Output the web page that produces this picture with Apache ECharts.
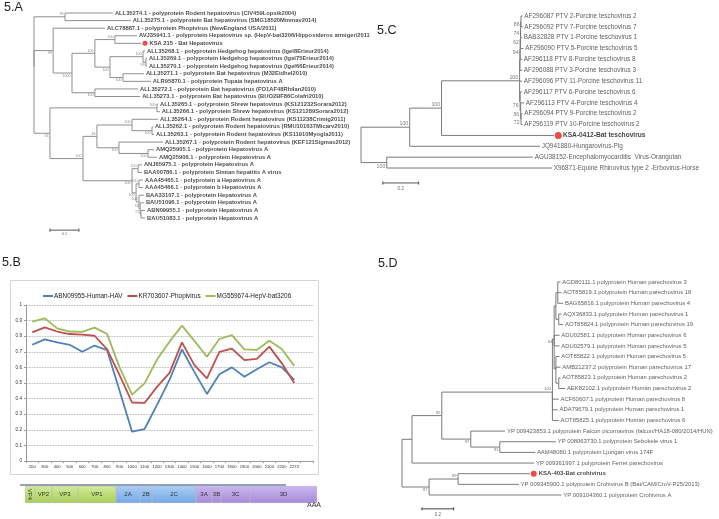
<!DOCTYPE html>
<html><head><meta charset="utf-8">
<script src="https://cdn.jsdelivr.net/npm/echarts@6/dist/echarts.min.js"></script>
<style>html,body{margin:0;padding:0;background:#fff}#c{width:719px;height:519px}</style>
</head><body><div id="c"></div>
<script>
// ---------------- DATA ----------------
// Trees: [node id / tip label, parent, cumulative branch length, bootstrap]
const treeA = [
 ['rA', null, 0],
 ['a1','rA',0.107,'99'],
 ['ALL35274.1 - polyprotein Rodent hepatovirus (CIV459Lopsik2004)','a1',0.272],
 ['ALL35275.1 - polyprotein Bat hepatovirus (SMG18520Minmav2014)','a1',0.334],
 ['a2','rA',0.066,'99'],
 ['ALC78887.1 - polyprotein Phopivirus (NewEngland USA/2011)','a2',0.245],
 ['a3','a2',0.131,'1000'],
 ['a4','a3',0.210,'100'],
 ['a5','a4',0.279,'100'],
 ['AVJ35941.1 - polyprotein Hepatovirus sp. (HepV-bat3206/Hipposideros armiger/2011','a5',0.355],
 ['KSA 215 - Bat Hepatovirus','a5',0.369],
 ['a6','a4',0.262,'100'],
 ['a7','a6',0.376,'100'],
 ['ALL35268.1 - polyprotein Hedgehog hepatovirus (Igel8Erieur2014)','a7',0.383],
 ['a8','a7',0.386,'99'],
 ['ALL35269.1 - polyprotein Hedgehog hepatovirus (Igel75Erieur2014)','a8',0.390],
 ['ALL35270.1 - polyprotein Hedgehog hepatovirus (Igel66Erieur2014)','a8',0.390],
 ['a9','a6',0.307,'100'],
 ['ALL35271.1 - polyprotein Bat hepatovirus (M32Eidhel2010)','a9',0.379],
 ['ALR95870.1 - polyprotein Tupaia hepatovirus A','a9',0.403],
 ['a10','a3',0.210,'100'],
 ['ALL35272.1 - polyprotein Bat hepatovirus (FO1AF48Rhilan2010)','a10',0.359],
 ['ALL35273.1 - polyprotein Bat hepatovirus (BUO2BF86Colafri2010)','a10',0.366],
 ['a11','rA',0.055,'56'],
 ['a12','a11',0.424,'100'],
 ['ALL35265.1 - polyprotein Shrew hepatovirus (KS121232Sorara2012)','a12',0.428],
 ['ALL35266.1 - polyprotein Shrew hepatovirus (KS121289Sorara2012)','a12',0.434],
 ['a13','a11',0.169,'100'],
 ['a14','a13',0.217,'46'],
 ['a15','a14',0.338,'100'],
 ['ALL35264.1 - polyprotein Rodent hepatovirus (KS11238Crimig2011)','a15',0.428],
 ['a16','a15',0.407,'100'],
 ['ALL35262.1 - polyprotein Rodent hepatovirus (RMU101637Micarv2010)','a16',0.410],
 ['ALL35263.1 - polyprotein Rodent hepatovirus (KS11910Myogla2011)','a16',0.414],
 ['a17','a14',0.293,'100'],
 ['ALL35267.1 - polyprotein Rodent hepatovirus (KEF121Sigmas2012)','a17',0.445],
 ['a18','a17',0.393,'100'],
 ['AMQ25905.1 - polyprotein Hepatovirus A','a18',0.414],
 ['AMQ25906.1 - polyprotein Hepatovirus A','a18',0.424],
 ['a19','a13',0.338,'100'],
 ['a20','a19',0.359,'100'],
 ['ANJ65975.1 - polyprotein Hepatovirus A','a20',0.372],
 ['BAA00786.1 - polyprotein Simian hepatitis A virus','a20',0.372],
 ['a21','a19',0.352,'100'],
 ['a22','a21',0.362,'100'],
 ['AAA45465.1 - polyprotein a Hepatovirus A','a22',0.376],
 ['AAA45466.1 - polyprotein b Hepatovirus A','a22',0.376],
 ['a23','a21',0.362,'100'],
 ['BAA33107.1 - polyprotein Hepatovirus A','a23',0.379],
 ['a24','a23',0.366,'55'],
 ['BAU51096.1 - polyprotein Hepatovirus A','a24',0.379],
 ['a25','a24',0.369,'57'],
 ['ABN09955.1 - polyprotein Hepatovirus A','a25',0.383],
 ['BAU51083.1 - polyprotein Hepatovirus A','a25',0.383]
];
const treeC = [
 ['rC', null, 0],
 ['c1','rC',0.272,'100'],
 ['c2','c1',0.450,'100'],
 ['c3','c2',0.886,'100'],
 ['c4','c3',0.888,''],
 ['c5','c4',0.889,'94'],
 ['c6','c5',0.891,'62'],
 ['c7','c6',0.892,'74'],
 ['c8','c7',0.894,'86'],
 ['AF296087 PTV 2-Porcine teschovirus 2','c8',0.903],
 ['AF296092 PTV 7-Porcine teschovirus 7','c8',0.903],
 ['BAB32828 PTV 1-Porcine teschovirus 1','c7',0.900],
 ['AF296090 PTV 5-Porcine teschovirus 5','c6',0.908],
 ['AF296118 PTV 8-Porcine teschovirus 8','c5',0.900],
 ['AF296088 PTV 3-Porcine teschovirus 3','c4',0.900],
 ['AF296096 PTV 11-Porcine teschovirus 11','c3',0.900],
 ['c9','c3',0.889,'76'],
 ['AF296117 PTV 6-Porcine teschovirus 6','c9',0.900],
 ['c10','c9',0.892,'56'],
 ['AF296113 PTV 4-Porcine teschovirus 4','c10',0.911],
 ['c11','c10',0.894,'72'],
 ['AF296094 PTV 9-Porcine teschovirus 2','c11',0.903],
 ['AF296119 PTV 10-Porcine teschovirus 2','c11',0.903],
 ['KSA-0412-Bat teschovirus','c2',1.078],
 ['JQ941880-Hungarovirus-Pig','c1',1.000],
 ['c12','rC',0.144,'100'],
 ['AGU38152-Encephalomyocarditis  Virus-Orangutan','c12',0.961],
 ['X96871-Equine Rhinovirus type 2 -Erbovirus-Horse','c12',1.067]
];
const treeD = [
 ['rD', null, 0],
 ['d1','rD',0.063,''],
 ['d2','d1',0.251,'92'],
 ['d3','d2',0.949,'100'],
 ['d4','d3',0.960,'64'],
 ['d5','d4',0.971,''],
 ['d6','d5',0.983,''],
 ['AGD80111.1 polyprotein Human parechovirus 3','d6',1.000],
 ['AOT85819.1 polyprotein Human parechovirus 18','d6',1.006],
 ['BAG65816.1 polyprotein Human parechovirus 4','d6',1.017],
 ['d7','d5',0.989,''],
 ['AQX36833.1 polyprotein Human parechovirus 1','d7',1.006],
 ['AOT85824.1 polyprotein Human parechovirus 19','d7',1.017],
 ['ADU02581.1 polyprotein Human parechovirus 6','d4',0.994],
 ['ADU02579.1 polyprotein Human parechovirus 5','d4',0.994],
 ['d8','d4',0.971,''],
 ['AOT85822.1 polyprotein Human parechovirus 5','d8',0.994],
 ['AMB21237.2 polyprotein Human parechovirus 17','d8',1.000],
 ['d9','d8',0.989,''],
 ['AOT85823.1 polyprotein Human parechovirus 2','d9',1.000],
 ['AEK82102.1 polyprotein Human parechovirus 2','d9',1.029],
 ['ACF60607.1 polyprotein Human parechovirus 8','d3',0.989],
 ['ADA79679.1 polyprotein Human parechovirus 1','d3',0.983],
 ['AOT85825.1 polyprotein Human parechovirus 6','d3',0.989],
 ['d10','d2',0.434,'97'],
 ['YP 009423853.1 polyprotein Falcon picornavirus (falcon/HA18-080/2014/HUN)','d10',0.651],
 ['d11','d10',0.617,'91'],
 ['YP 008063730.1 polyprotein Sebokele virus 1','d11',0.971],
 ['AAM48080.1 polyprotein Ljungan virus 174F','d11',0.840],
 ['YP 009361997.1 polyprotein Ferret parechovirus','d1',0.834],
 ['d12','rD',0.171,'87'],
 ['d13','d12',0.354,'89'],
 ['KSA-403-Bat crohivirus','d13',0.806],
 ['YP 009345900.1 polyprotein Crohivirus B (Bat/CAM/CroV-P25/2013)','d13',0.737],
 ['YP 009104360.1 polyprotein Crohivirus A','d12',1.006]
];
const highlightA = ['KSA 215 - Bat Hepatovirus'];
const highlightC = ['KSA-0412-Bat teschovirus'];
const highlightD = ['KSA-403-Bat crohivirus'];
const scaleA = 0.1, scaleC = 0.2, scaleD = 0.2;

// Similarity plot (5.B)
const positions = ['200','300','400','500','600','700','800','900','1000','1100','1200','1300','1400','1500','1600','1700','1800','1900','2000','2100','2200','2273',''];
const seriesNames = ['ABN09955-Human-HAV','KR703607-Phopivirus','MG559674-HepV-bat3206'];
const humanHAV   = [0.745,0.78,0.76,0.745,0.70,0.74,0.71,0.45,0.188,0.205,0.36,0.52,0.715,0.57,0.43,0.556,0.60,0.54,0.588,0.633,0.60,0.52];
const phopivirus = [0.825,0.857,0.83,0.814,0.81,0.803,0.715,0.55,0.375,0.372,0.475,0.565,0.76,0.615,0.53,0.70,0.72,0.647,0.654,0.733,0.626,0.50];
const hepvBat    = [0.893,0.915,0.85,0.83,0.828,0.855,0.814,0.60,0.425,0.498,0.65,0.765,0.868,0.77,0.668,0.782,0.807,0.716,0.712,0.771,0.718,0.61];
const yTicks = [0,0.1,0.2,0.3,0.4,0.5,0.6,0.7,0.8,0.9,1];

// Genome map
const genomeSegments = ['VP4','VP2','VP3','VP1','2A','2B','2C','3A','3B','3C','3D'];
const genomeLengths  = [10,17,26,38,24,12,44,16,9,29,67];
const genomeRegions  = ['P1','P1','P1','P1','P2','P2','P2','P3','P3','P3','P3'];

// ---------------- BUILD ----------------
const FONT = 'Liberation Sans, Arial, sans-serif';
function buildTree(nodes){
  const map = {}, list = [];
  nodes.forEach(n => { const o = {id:n[0], parent:n[1], depth:n[2], support:n[3]||'', children:[]}; map[o.id]=o; list.push(o); });
  let root = null;
  list.forEach(o => { if (o.parent === null) root = o; else map[o.parent].children.push(o); });
  const tips = [], inner = [], segs = [];
  let k = 0;
  (function place(n){
    if (!n.children.length) { n.y = k++; tips.push(n); }
    else { n.children.forEach(place); n.y = n.children.reduce((s,c)=>s+c.y,0)/n.children.length; inner.push(n); }
  })(root);
  (function link(n){ n.children.forEach(c => { segs.push({coords:[[n.depth,n.y],[n.depth,c.y],[c.depth,c.y]]}); link(c); }); })(root);
  return {tips, inner, segs, n:k};
}
const TA = buildTree(treeA), TC = buildTree(treeC), TD = buildTree(treeD);

const styleA = {line:'#8f8f8f', tipFont:5.8, tipWeight:'bold', tipColor:'#1a1a1a', tipDist:1.5, hi:highlightA, hiFont:5.8, hiDist:8, dot:5, dotOff:4,
  supFont:3.6, supColor:'#666', supOff:2.6, below:['a2','a3','a6','a8','a9','a10','a11','a16','a17','a18','a19','a21'],
  scale:scaleA, scalePos:[0.055,28.6], tickH:0.22, scaleFont:3.8, scaleDist:1, scaleColor:'#555'};
const styleC = {line:'#7a7a7a', tipFont:6.4, tipWeight:'normal', tipColor:'#333', tipDist:1.2, hi:highlightC, hiFont:6.6, hiDist:8.5, dot:7, dotOff:4.3,
  supFont:5.2, supColor:'#555', supOff:3.6, below:['c12','c5','c6','c7','c8','c9','c10','c11'],
  scale:scaleC, scalePos:[0.122,15.38], tickH:0.15, scaleFont:4.6, scaleDist:3, scaleColor:'#555'};
const styleD = {line:'#7a7a7a', tipFont:5.9, tipWeight:'normal', tipColor:'#333', tipDist:1.3, hi:highlightD, hiFont:6.0, hiDist:8.5, dot:6, dotOff:4,
  supFont:4.2, supColor:'#555', supOff:3, below:['d10','d11','d12','d4'],
  scale:scaleD, scalePos:[0.126,21.3], tickH:0.15, scaleFont:4.6, scaleDist:3, scaleColor:'#444'};

function treeSeries(T, gi, st){
  const ax = {xAxisIndex:gi, yAxisIndex:gi, silent:true};
  const out = [];
  out.push(Object.assign({type:'lines', coordinateSystem:'cartesian2d', polyline:true, clip:false, z:2,
    lineStyle:{color:st.line, width:1, opacity:1, curveness:0}, data:T.segs}, ax));
  out.push(Object.assign({type:'scatter', symbolSize:1, clip:false, z:3, itemStyle:{color:'rgba(0,0,0,0)'},
    label:{show:true, position:'right', distance:st.tipDist, formatter:'{b}', fontSize:st.tipFont, fontWeight:st.tipWeight, color:st.tipColor, fontFamily:FONT},
    data:T.tips.map(t => {
      const d = {name:t.id, value:[t.depth, t.y]};
      if (st.hi.includes(t.id)) d.label = {distance:st.hiDist, fontWeight:'bold', fontSize:st.hiFont, color:'#111'};
      return d;
    })}, ax));
  out.push(Object.assign({type:'scatter', symbol:'circle', symbolSize:st.dot, symbolOffset:[st.dotOff,0], clip:false, z:4,
    itemStyle:{color:'#ee1c14'}, data:T.tips.filter(t => st.hi.includes(t.id)).map(t => [t.depth, t.y])}, ax));
  out.push(Object.assign({type:'scatter', symbolSize:1, clip:false, z:3, itemStyle:{color:'rgba(0,0,0,0)'},
    label:{show:true, position:'left', distance:1, fontSize:st.supFont, color:st.supColor, fontFamily:FONT},
    data:T.inner.filter(n => n.support).map(n => ({value:[n.depth, n.y],
      label:{formatter:n.support, offset:[0, st.below.includes(n.id) ? st.supOff : -st.supOff]}}))}, ax));
  // scale bar
  const [sx, sy] = st.scalePos, ex = sx + st.scale, h = st.tickH;
  out.push(Object.assign({type:'lines', coordinateSystem:'cartesian2d', polyline:true, clip:false, z:2,
    lineStyle:{color:st.scaleColor, width:1, opacity:1},
    data:[{coords:[[sx,sy],[ex,sy]]},{coords:[[sx,sy-h],[sx,sy+h]]},{coords:[[ex,sy-h],[ex,sy+h]]}]}, ax));
  out.push(Object.assign({type:'scatter', symbolSize:1, clip:false, itemStyle:{color:'rgba(0,0,0,0)'},
    label:{show:true, position:'bottom', distance:st.scaleDist, formatter:String(st.scale), fontSize:st.scaleFont, color:'#444', fontFamily:FONT},
    data:[[sx + st.scale/2, sy]]}, ax));
  return out;
}

const hiddenX = (gi,max) => ({type:'value', gridIndex:gi, min:0, max:max, show:false});
const hiddenY = (gi,n) => ({type:'value', gridIndex:gi, min:0, max:n-1, inverse:true, show:false});

const regionColors = {
  P1:['#d2ea97','#a9cf5b'],
  P2:['#a9cdf6','#74a9e6'],
  P3:['#cbb6ef','#a68bd8']
};
const lineColors = ['#4f81bd','#c0504d','#9bbb59'];

const option = {
  backgroundColor:'#fff',
  animation:false,
  textStyle:{fontFamily:FONT},
  grid:[
    {left:34, top:13, width:290, height:205},
    {left:361, top:16, width:360, height:152},
    {left:402, top:282, width:350, height:213},
    {left:26, top:305, width:287, height:156},
    {left:25, top:486, width:292, height:17}
  ],
  xAxis:[
    hiddenX(0,1.0), hiddenX(1,2.0), hiddenX(2,2.0),
    {type:'category', gridIndex:3, data:positions, boundaryGap:true,
     axisLine:{lineStyle:{color:'#9a9a9a', width:1}}, axisTick:{show:true, length:2, lineStyle:{color:'#9a9a9a'}},
     axisLabel:{fontSize:4.2, color:'#333', margin:4, interval:0}},
    {type:'value', gridIndex:4, min:0, max:genomeLengths.reduce((a,b)=>a+b,0), show:false}
  ],
  yAxis:[
    hiddenY(0,TA.n), hiddenY(1,TC.n), hiddenY(2,TD.n),
    {type:'value', gridIndex:3, min:yTicks[0], max:yTicks[yTicks.length-1], interval:0.1,
     axisLine:{show:true, lineStyle:{color:'#9a9a9a'}}, axisTick:{show:true, length:2, lineStyle:{color:'#9a9a9a'}},
     axisLabel:{fontSize:4.6, color:'#333', margin:4},
     splitLine:{show:true, lineStyle:{type:'dotted', color:'#9a9a9a', width:0.8}}},
    {type:'category', gridIndex:4, data:['polyprotein'], show:false}
  ],
  legend:{left:38, top:288, icon:'rect', itemWidth:10, itemHeight:2, itemGap:5, data:seriesNames,
    textStyle:{fontSize:6.4, color:'#222', fontFamily:FONT, padding:[0,0,0,-4]}},
  graphic:[
    {type:'text', left:4, top:1, style:{text:'5.A', fontSize:12.5, fill:'#222', fontFamily:FONT}},
    {type:'text', left:377, top:24, style:{text:'5.C', fontSize:12.5, fill:'#222', fontFamily:FONT}},
    {type:'text', left:2, top:256, style:{text:'5.B', fontSize:12.5, fill:'#222', fontFamily:FONT}},
    {type:'text', left:378, top:257, style:{text:'5.D', fontSize:12.5, fill:'#222', fontFamily:FONT}},
    {type:'rect', shape:{x:10.5, y:280.5, width:308, height:194}, style:{fill:'none', stroke:'#d4d4d4', lineWidth:1}, z:-1},
    {type:'line', shape:{x1:20, y1:485, x2:286, y2:485}, style:{stroke:'#2b4878', lineWidth:1.2}},
    {type:'text', left:307, top:502, style:{text:'AAA', fontSize:7, fill:'#333', fontFamily:FONT}}
  ],
  series:[]
};

option.series.push(...treeSeries(TA,0,styleA), ...treeSeries(TC,1,styleC), ...treeSeries(TD,2,styleD));

[humanHAV, phopivirus, hepvBat].forEach((vals,i) => {
  option.series.push({type:'line', name:seriesNames[i], xAxisIndex:3, yAxisIndex:3, data:vals, symbol:'none',
    silent:true, lineStyle:{width:1.8, color:lineColors[i]}, itemStyle:{color:lineColors[i]}});
});

genomeSegments.forEach((seg,i) => {
  const c = regionColors[genomeRegions[i]];
  option.series.push({type:'bar', name:seg, xAxisIndex:4, yAxisIndex:4, stack:'genome', barWidth:17, silent:true,
    data:[genomeLengths[i]],
    itemStyle:{color:new echarts.graphic.LinearGradient(0,0,0,1,[{offset:0,color:c[0]},{offset:1,color:c[1]}]),
      borderColor:'rgba(60,60,60,0.25)', borderWidth:0.6},
    label:{show:true, position:'inside', formatter:'{a}', fontSize:6, color:'#333', fontFamily:FONT,
      rotate: seg === 'VP4' ? -90 : 0}});
});

const chart = echarts.init(document.getElementById('c'), null, {renderer:'canvas'});
chart.setOption(option);
</script></body></html>
